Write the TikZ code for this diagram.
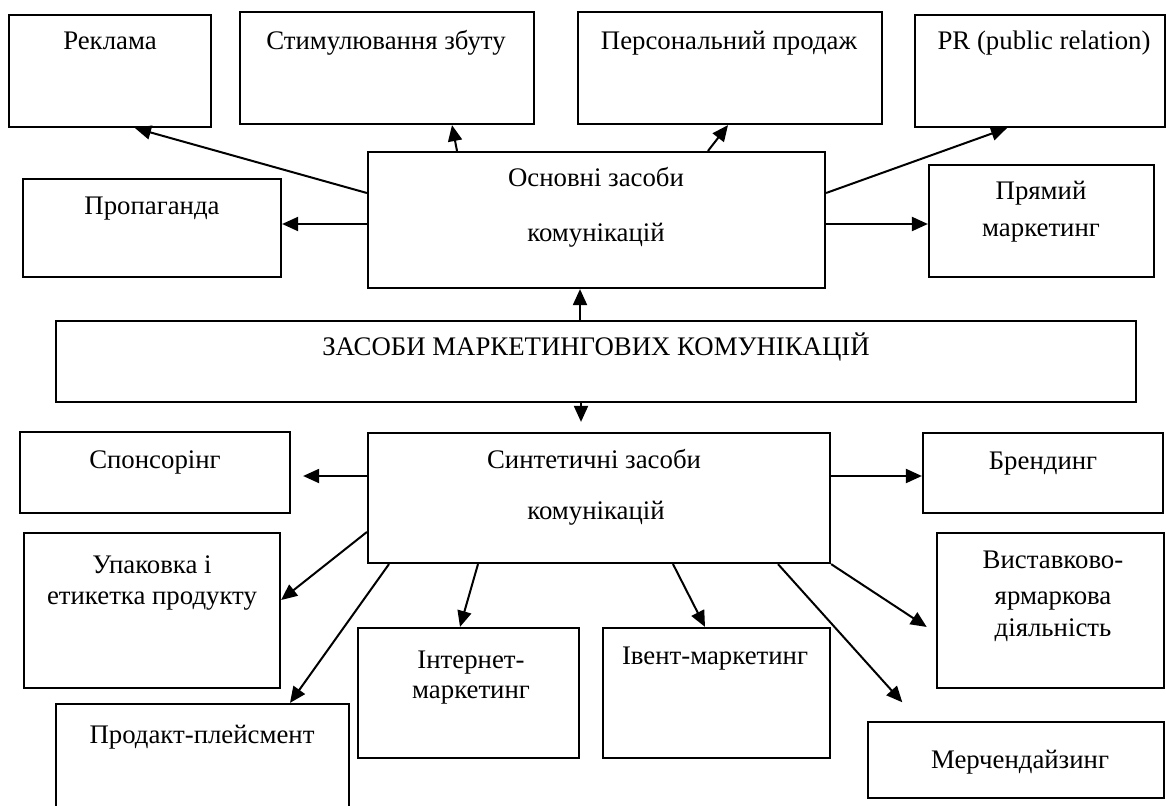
\documentclass[tikz,border=0pt]{standalone}
\usepackage{fontspec}
\setmainfont{Liberation Serif}
\usetikzlibrary{arrows.meta}
\begin{document}
\begin{tikzpicture}[x=1pt,y=-1pt,
  box/.style={draw,line width=2.2pt,inner sep=0pt,rectangle},
  lbl/.style={inner sep=0pt,font=\fontsize{26.8}{32}\selectfont,text height=18.2pt,text depth=5.4pt},
  arr/.style={line width=2pt,-{Triangle[length=16pt,width=14pt]}}]
\useasboundingbox (0,0) rectangle (1166,805);
\fill[white] (0,0) rectangle (1166,805);
\begin{scope}
\clip (0,0) rectangle (1166,805);
% boxes
\node[box,minimum width=202pt,minimum height=112pt] (reklama) at (110,71) {};
\node[box,minimum width=294pt,minimum height=112pt] (stym) at (387,68) {};
\node[box,minimum width=304pt,minimum height=112pt] (pers) at (730,68) {};
\node[box,minimum width=250pt,minimum height=112pt] (pr) at (1040,71) {};
\node[box,minimum width=258pt,minimum height=98pt] (prop) at (152,228) {};
\node[box,minimum width=457pt,minimum height=136pt] (osn) at (596.5,220) {};
\node[box,minimum width=225pt,minimum height=112pt] (pryam) at (1041.5,221) {};
\node[box,minimum width=1080pt,minimum height=81pt] (zasoby) at (596,361.5) {};
\node[box,minimum width=270pt,minimum height=81pt] (spons) at (155,472.5) {};
\node[box,minimum width=462pt,minimum height=130pt] (synt) at (599,498) {};
\node[box,minimum width=240pt,minimum height=80pt] (brend) at (1043,473) {};
\node[box,minimum width=256pt,minimum height=155pt] (upak) at (152,610.5) {};
\node[box,minimum width=227pt,minimum height=155pt] (vyst) at (1050.5,610.5) {};
\node[box,minimum width=221pt,minimum height=130pt] (inter) at (468.5,693) {};
\node[box,minimum width=227pt,minimum height=130pt] (ivent) at (716.5,693) {};
\node[box,minimum width=293pt,minimum height=108pt] (prod) at (202.5,758) {};
\node[box,minimum width=296pt,minimum height=76pt] (merch) at (1016,760) {};
% texts
\node[lbl] (t-reklama) at (110,43) {Реклама};
\node[lbl] (t-stym) at (386,43) {Стимулювання збуту};
\node[lbl] (t-pers) at (729,43) {Персональний продаж};
\node[lbl] (t-pr) at (1044,43) {PR (public relation)};
\node[lbl] (t-prop) at (152,208) {Пропаганда};
\node[lbl] (t-osn1) at (596,180) {Основні засоби};
\node[lbl] (t-osn2) at (596,235) {комунікацій};
\node[lbl] (t-pryam1) at (1041,193) {Прямий};
\node[lbl] (t-pryam2) at (1041,230) {маркетинг};
\node[lbl] (t-zasoby) at (596,349) {ЗАСОБИ МАРКЕТИНГОВИХ КОМУНІКАЦІЙ};
\node[lbl] (t-spons) at (155,462) {Спонсорінг};
\node[lbl] (t-synt1) at (594,462) {Синтетичні засоби};
\node[lbl] (t-synt2) at (596,513) {комунікацій};
\node[lbl] (t-brend) at (1043,463) {Брендинг};
\node[lbl] (t-upak1) at (152,567) {Упаковка і};
\node[lbl] (t-upak2) at (152,598) {етикетка продукту};
\node[lbl] (t-vyst1) at (1053,562) {Виставково-};
\node[lbl] (t-vyst2) at (1053,598) {ярмаркова};
\node[lbl] (t-vyst3) at (1053,630) {діяльність};
\node[lbl] (t-inter1) at (471,662) {Інтернет-};
\node[lbl] (t-inter2) at (471,692) {маркетинг};
\node[lbl] (t-ivent) at (715,658) {Івент-маркетинг};
\node[lbl] (t-prod) at (202,737) {Продакт-плейсмент};
\node[lbl] (t-merch) at (1020,762) {Мерчендайзинг};
% connectors
\draw[arr] (osn.west |- 0,193) -- (reklama.south -| 135,0);
\draw[arr] (osn.north -| 457,0) -- (stym.south -| 452,0);
\draw[arr] (osn.north -| 708,0) -- (pers.south -| 728,0);
\draw[arr] (osn.east |- 0,193) -- (pr.south -| 1007,0);
\draw[arr] (osn.west |- 0,224) -- (prop.east |- 0,224);
\draw[arr] (osn.east |- 0,224) -- (pryam.west |- 0,224);
\draw[arr] (zasoby.north -| 580,0) -- (osn.south -| 580,0);
\draw[arr,shorten >=10pt] (zasoby.south -| 581,0) -- (synt.north -| 581,0);
\draw[arr,shorten >=12pt] (synt.west |- 0,476) -- (spons.east |- 0,476);
\draw[arr] (synt.east |- 0,476) -- (brend.west |- 0,476);
\draw[arr] (synt.west |- 0,532) -- (upak.east |- 0,600);
\draw[arr] (synt.south -| 389,0) -- (prod.north -| 290,0);
\draw[arr] (synt.south -| 478,0) -- (inter.north -| 460,0);
\draw[arr] (synt.south -| 673,0) -- (ivent.north -| 705,0);
\draw[arr,shorten >=25pt] (synt.south -| 778,0) -- (merch.north -| 919,0);
\draw[arr,shorten >=11pt] (synt.south east) -- (vyst.west |- 0,633);
\end{scope}
\end{tikzpicture}
\end{document}
